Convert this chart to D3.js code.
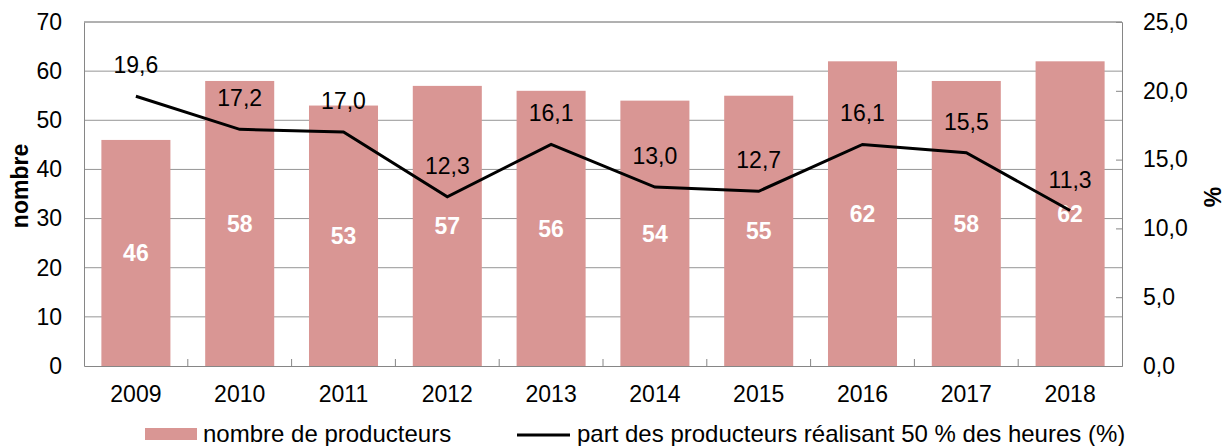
<!DOCTYPE html>
<html>
<head>
<meta charset="utf-8">
<script src="https://cdn.jsdelivr.net/npm/d3@7"></script>
<style>
  body { margin: 0; background: #fff; }
  svg { display: block; font-family: "Liberation Sans", Arial, sans-serif; }
</style>
</head>
<body>
<div class="chart"></div>
<script>
// --- Data ---
const years = ["2009", "2010", "2011", "2012", "2013", "2014", "2015", "2016", "2017", "2018"];
const producers = [46, 58, 53, 57, 56, 54, 55, 62, 58, 62];
const share = [19.6, 17.2, 17.0, 12.3, 16.1, 13.0, 12.7, 16.1, 15.5, 11.3];
const leftTicks = [0, 10, 20, 30, 40, 50, 60, 70];
const rightTicks = [0, 5, 10, 15, 20, 25];

const W = 1225, H = 446;
const margin = { top: 22, right: 103, bottom: 80, left: 84 };
const x0 = margin.left, x1 = W - margin.right;
const y0 = H - margin.bottom, y1 = margin.top;
const fs = "23px";

const fmt = v => v.toFixed(1).replace(".", ",");

const svg = d3.select(".chart").append("svg")
    .attr("width", W)
    .attr("height", H);

const x = d3.scaleBand().domain(years).range([x0, x1]).paddingInner(0.335).paddingOuter(0.1675);
const xCat = d3.scaleBand().domain(years).range([x0, x1]);
const yL = d3.scaleLinear().domain([0, 70]).range([y0, y1]);
const yR = d3.scaleLinear().domain([0, 25]).range([y0, y1]);

// gridlines
svg.append("g")
    .selectAll("line")
    .data(leftTicks.slice(1))
    .join("line")
    .attr("x1", x0).attr("x2", x1)
    .attr("y1", d => yL(d)).attr("y2", d => yL(d))
    .attr("stroke", "#969696")
    .attr("stroke-width", 1);

// bars
svg.append("g")
    .selectAll("rect")
    .data(years)
    .join("rect")
    .attr("x", d => x(d))
    .attr("width", x.bandwidth())
    .attr("y", (d, i) => yL(producers[i]))
    .attr("height", (d, i) => y0 - yL(producers[i]))
    .attr("fill", "#d99694");

// left axis
const gL = svg.append("g")
    .attr("transform", `translate(${x0},0)`)
    .call(d3.axisLeft(yL).tickValues(leftTicks).tickSize(0).tickPadding(22));
gL.select(".domain").attr("stroke", "#868686");
gL.selectAll("text").style("font-size", fs).attr("fill", "#000");

// right axis
const gR = svg.append("g")
    .attr("transform", `translate(${x1},0)`)
    .call(d3.axisRight(yR).tickValues(rightTicks).tickSize(-6).tickPadding(21).tickFormat(fmt));
gR.select(".domain").attr("stroke", "#868686");
gR.selectAll(".tick line").attr("stroke", "#868686");
gR.selectAll("text").style("font-size", fs).attr("fill", "#000");

// bottom axis with category boundary ticks
const gB = svg.append("g")
    .attr("transform", `translate(0,${y0})`)
    .call(d3.axisBottom(xCat).tickSize(0).tickPadding(20));
gB.select(".domain").attr("stroke", "#868686");
gB.selectAll("text").style("font-size", fs).attr("fill", "#000");
gB.selectAll(".sep")
    .data(years.slice(1))
    .join("line")
    .attr("class", "sep")
    .attr("x1", d => xCat(d)).attr("x2", d => xCat(d))
    .attr("y1", 0).attr("y2", -7)
    .attr("stroke", "#868686");

// top border
svg.append("line")
    .attr("x1", x0).attr("x2", x1)
    .attr("y1", y1).attr("y2", y1)
    .attr("stroke", "#969696");

// bar value labels
svg.append("g")
    .selectAll("text")
    .data(years)
    .join("text")
    .attr("x", d => x(d) + x.bandwidth() / 2)
    .attr("y", (d, i) => (yL(producers[i]) + y0) / 2 + 8.5)
    .attr("text-anchor", "middle")
    .attr("fill", "#fff")
    .style("font-size", fs)
    .style("font-weight", "bold")
    .text((d, i) => producers[i]);

// share line
const line = d3.line()
    .x((d, i) => xCat(years[i]) + xCat.bandwidth() / 2)
    .y(d => yR(d));

svg.append("path")
    .datum(share)
    .attr("d", line)
    .attr("fill", "none")
    .attr("stroke", "#000")
    .attr("stroke-width", 3);

svg.append("g")
    .selectAll("text")
    .data(share)
    .join("text")
    .attr("x", (d, i) => xCat(years[i]) + xCat.bandwidth() / 2)
    .attr("y", d => yR(d) - 23)
    .attr("text-anchor", "middle")
    .attr("fill", "#000")
    .style("font-size", fs)
    .text(fmt);

// axis titles
svg.append("text")
    .attr("transform", `translate(28,186) rotate(-90)`)
    .attr("text-anchor", "middle")
    .style("font-size", fs)
    .style("font-weight", "bold")
    .text("nombre");

svg.append("text")
    .attr("transform", `translate(1221,197) rotate(-90)`)
    .attr("text-anchor", "middle")
    .style("font-size", fs)
    .style("font-weight", "bold")
    .text("%");

// legend
const leg = svg.append("g");
leg.append("rect")
    .attr("x", 145).attr("y", 428).attr("width", 52).attr("height", 12)
    .attr("fill", "#d99694");
leg.append("text")
    .attr("x", 203).attr("y", 442)
    .style("font-size", "24px")
    .text("nombre de producteurs");
leg.append("line")
    .attr("x1", 517).attr("x2", 570).attr("y1", 435).attr("y2", 435)
    .attr("stroke", "#000").attr("stroke-width", 3);
leg.append("text")
    .attr("x", 577).attr("y", 442)
    .style("font-size", "24px")
    .text("part des producteurs réalisant 50 % des heures (%)");
</script>
</body>
</html>
